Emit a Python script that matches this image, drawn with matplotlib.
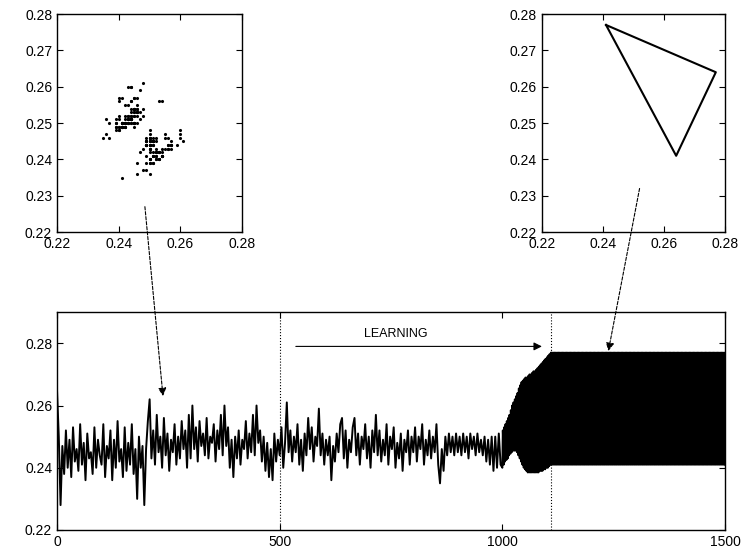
import numpy as np
import matplotlib
matplotlib.use("Agg")
from matplotlib import pyplot as plt
from matplotlib.patches import ConnectionPatch

plt.rcParams['font.family'] = ['Liberation Sans', 'DejaVu Sans']

# signal before the learning settles (every 4th step, in units of 1e-3)
noisy_step = 4
noisy_vals = [
    265, 250, 228, 247, 238, 252, 240, 249, 237, 253, 242, 246, 239, 254, 241, 248, 236, 251, 243, 245, 238, 253, 240, 249, 244,
    241, 254, 237, 247, 243, 252, 236, 249, 240, 255, 242, 246, 237, 253, 239, 248, 241, 254, 238, 246, 230, 250, 240, 247, 228,
    246, 255, 262, 243, 252, 241, 257, 245, 250, 240, 256, 244, 251, 239, 249, 245, 254, 241, 250, 243, 255, 246, 252, 240, 257,
    243, 260, 246, 253, 242, 255, 247, 251, 244, 256, 243, 250, 248, 254, 242, 252, 246, 257, 244, 260, 247, 253, 240, 249, 237,
    250, 243, 252, 241, 249, 246, 255, 243, 251, 245, 257, 244, 260, 248, 252, 242, 250, 239, 248, 237, 246, 236, 251, 242, 249,
    244, 253, 240, 248, 261, 245, 252, 242, 250, 245, 254, 241, 249, 239, 251, 244, 256, 246, 253, 242, 250, 247, 259, 244, 251,
    241, 249, 244, 250, 236, 247, 242, 251, 245, 254, 256, 243, 252, 240, 249, 245, 253, 256, 244, 251, 241, 250, 246, 254, 243,
    250, 240, 252, 245, 257, 244, 252, 242, 249, 244, 254, 241, 250, 246, 253, 240, 248, 243, 251, 239, 249, 245, 252, 241, 250,
    245, 253, 242, 250, 246, 254, 241, 249, 244, 252, 243, 250, 245, 254, 241, 235, 246, 239, 250, 244, 251, 245, 250, 244, 251,
    245, 250, 244, 251, 245, 250, 243, 251, 246, 250, 244, 251, 245, 249, 244, 250, 242, 249, 241, 250, 239, 250, 240, 251, 241,
]

# growth of the period-3 oscillation, one (low, high, middle) per cycle, t = 1000..1110
ramp_cycles = [
    (240, 252, 248), (241, 253, 249), (242, 254, 250), (242.5, 255, 251),
    (243, 256, 252), (244, 257, 253), (244.5, 258.5, 254), (245, 260, 255),
    (245.5, 261, 256), (245.5, 262, 256), (245.5, 263, 257), (245, 264, 257),
    (244, 265.5, 258), (243, 266.5, 258), (242, 267.5, 258), (241, 268, 258),
    (240, 268.5, 258), (239.5, 269, 258), (239, 269, 258), (238.5, 269.5, 259),
    (238.5, 270, 259), (238.5, 270, 259), (238.5, 270.5, 259), (238.5, 271, 260),
    (238.5, 271, 260), (238.5, 271.5, 260), (238.5, 272, 260), (238.5, 272.5, 261),
    (239, 273, 261), (239, 273.5, 261), (239, 274, 262), (239.5, 274.5, 262),
    (239.5, 275, 262), (240, 275.5, 263), (240, 276, 263), (240.5, 276.5, 263.5),
    (241, 277, 264),
]

# learned stable 3-cycle
cycle = [241, 277, 264]
t_learn_end = 1110
t_end = 1500

t_start_learn = 500
learning_label = "LEARNING"

noisy = np.array(noisy_vals) / 1000.0
t_noisy = np.arange(len(noisy)) * noisy_step

ramp = np.array([v for c in ramp_cycles for v in c]) / 1000.0
t_ramp = 1000 + np.arange(len(ramp))

n_steady = t_end - t_learn_end + 1
steady = np.resize(np.array(cycle) / 1000.0, n_steady)
t_steady = t_learn_end + np.arange(n_steady)

t_all = np.concatenate([t_noisy, t_ramp, t_steady])
x_all = np.concatenate([noisy, ramp, steady])

fig = plt.figure(figsize=(7.54, 5.5), dpi=100)

def matlab_axes(ax):
    ax.tick_params(direction='in', top=True, right=True, labelsize=10, length=4, width=0.8)
    for s in ax.spines.values():
        s.set_linewidth(1.0)

# bottom: time series
ax = fig.add_axes([0.0756, 0.0364, 0.886, 0.396])
ax.plot(t_all, x_all, color='black', lw=1.4)
ax.axvline(t_start_learn, color='black', ls=':', lw=0.8)
ax.axvline(t_learn_end, color='black', ls=':', lw=0.8)
ax.annotate('', xy=(1095, 0.279), xytext=(530, 0.279),
            arrowprops=dict(arrowstyle='-|>', color='black', lw=0.8, mutation_scale=12))
ax.text(760, 0.2812, learning_label, ha='center', va='bottom', fontsize=9)
ax.set_xlim(0, 1500)
ax.set_ylim(0.22, 0.29)
ax.set_xticks([0, 500, 1000, 1500])
ax.set_yticks([0.22, 0.24, 0.26, 0.28])
ax.set_yticklabels(['0.22', '0.24', '0.26', '0.28'])
matlab_axes(ax)

# top left: delay plot of the early, irregular signal
ax1 = fig.add_axes([0.0756, 0.578, 0.2454, 0.3964])
early = noisy[55:]
ax1.plot(early[:-1], early[1:], '.', color='black', ms=2.5)
# top right: delay plot of the learned cycle
ax2 = fig.add_axes([0.7188, 0.578, 0.2427, 0.3964])
cyc = np.array(cycle + cycle[:2]) / 1000.0
ax2.plot(cyc[:-1], cyc[1:], color='black', lw=1.5)

for a in (ax1, ax2):
    a.set_xlim(0.22, 0.28)
    a.set_ylim(0.22, 0.28)
    a.set_xticks([0.22, 0.24, 0.26, 0.28])
    a.set_xticklabels(['0.22', '0.24', '0.26', '0.28'])
    a.set_yticks([0.22, 0.23, 0.24, 0.25, 0.26, 0.27, 0.28])
    a.set_yticklabels(['0.22', '0.23', '0.24', '0.25', '0.26', '0.27', '0.28'])
    matlab_axes(a)

con1 = ConnectionPatch(xyA=(0.2485, 0.227), coordsA=ax1.transData,
                       xyB=(238, 0.263), coordsB=ax.transData,
                       arrowstyle='-|>', color='black', lw=0.8, ls=(0, (3, 1.5)),
                       mutation_scale=12)
con2 = ConnectionPatch(xyA=(0.252, 0.232), coordsA=ax2.transData,
                       xyB=(1238, 0.2775), coordsB=ax.transData,
                       arrowstyle='-|>', color='black', lw=0.8, ls=(0, (3, 1.5)),
                       mutation_scale=12)
fig.add_artist(con1)
fig.add_artist(con2)

fig.savefig('out.png', dpi=100)
